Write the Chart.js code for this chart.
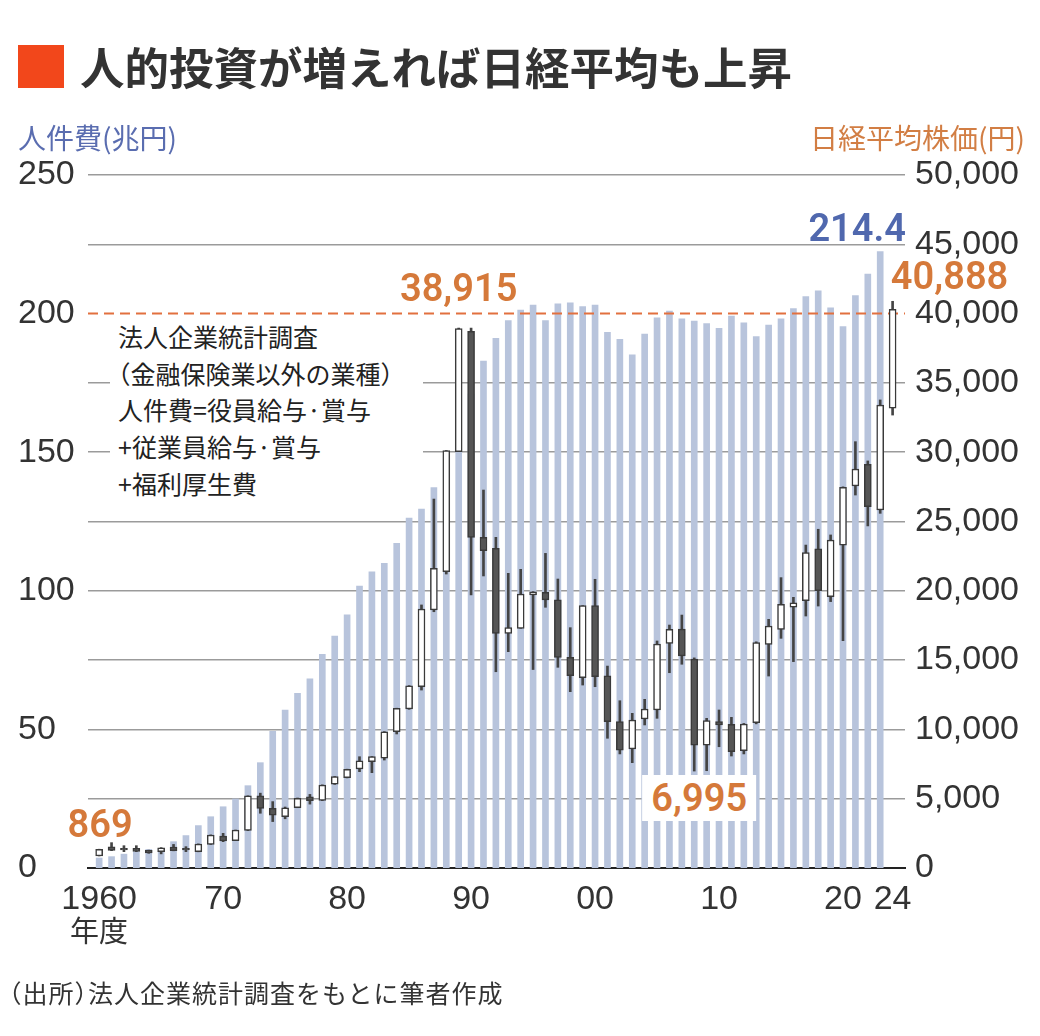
<!DOCTYPE html>
<html lang="ja">
<head>
<meta charset="utf-8">
<title>人的投資が増えれば日経平均も上昇</title>
<script src="https://cdn.jsdelivr.net/npm/chart.js@4.4.1/dist/chart.umd.min.js"></script>
<style>
  html, body { margin: 0; padding: 0; background: #fff; }
  body { width: 1040px; height: 1036px; position: relative; overflow: hidden;
         font-family: "Noto Sans CJK JP", sans-serif; color: #222; }
  #chart { position: absolute; left: 0; top: 0; }
  .abs { position: absolute; white-space: nowrap; line-height: 1; }
  .h { font-feature-settings: "halt"; }
  #mark { position: absolute; left: 18px; top: 45px; width: 46px; height: 43px; background: #f2471b; }
  #title { left: 80px; top: 44px; font-size: 44.5px; font-weight: 700; color: #333; }
  #unitL { left: 18px; top: 123px; font-size: 28px; color: #5a6db0; }
  #unitR { right: 15px; top: 123px; font-size: 28px; color: #d27e44; }
  #note { position: absolute; left: 110px; top: 318px; width: 305px; height: 188px; padding-left: 8px;
          background: #fff; font-size: 25px; line-height: 36.7px; color: #222; white-space: nowrap; }
  #nendo { left: 70px; top: 915px; font-size: 29px; color: #333; }
  #source { left: 9px; top: 980px; font-size: 25px; letter-spacing: 1px; color: #333; }
  .lbl { position: absolute; white-space: nowrap; line-height: 1; transform: translate(-50%, -50%);
         font-family: Roboto, "Liberation Sans", sans-serif; font-weight: 600; font-size: 38px; }
  .orange { color: #d5793a; }
  .blue { color: #5068ae; }
  #l6995 { background: #fff; padding: 4px 9px; }
</style>
</head>
<body>
<canvas id="chart" width="1040" height="1036"></canvas>
<div id="mark"></div>
<div id="title" class="abs">人的投資が増えれば日経平均も上昇</div>
<div id="unitL" class="abs">人件費(兆円)</div>
<div id="unitR" class="abs">日経平均株価(円)</div>
<div id="note">法人企業統計調査<br><span class="h">（</span>金融保険業以外の業種<span class="h">）</span><br>人件費=役員給与·賞与<br>+従業員給与·賞与<br>+福利厚生費</div>
<div id="nendo" class="abs">年度</div>
<div id="source" class="abs"><span class="h">（</span>出所<span class="h">）</span>法人企業統計調査をもとに筆者作成</div>
<div id="l869" class="lbl orange">869</div>
<div id="l38915" class="lbl orange">38,915</div>
<div id="l2144" class="lbl blue">214.4</div>
<div id="l40888" class="lbl orange">40,888</div>
<div id="l6995" class="lbl orange">6,995</div>
<script>
// fiscal years shown on the x axis
const years = [1960, 1961, 1962, 1963, 1964, 1965, 1966, 1967, 1968, 1969,
  1970, 1971, 1972, 1973, 1974, 1975, 1976, 1977, 1978, 1979,
  1980, 1981, 1982, 1983, 1984, 1985, 1986, 1987, 1988, 1989,
  1990, 1991, 1992, 1993, 1994, 1995, 1996, 1997, 1998, 1999,
  2000, 2001, 2002, 2003, 2004, 2005, 2006, 2007, 2008, 2009,
  2010, 2011, 2012, 2013, 2014, 2015, 2016, 2017, 2018, 2019,
  2020, 2021, 2022, 2023, 2024];

// 人件費 (兆円)
const laborCost = [3.6, 4.1, 5.0, 5.9, 6.7, 7.1, 9.5, 11.7, 15.3, 18.5,
  22.1, 24.9, 29.7, 38.0, 49.3, 57.0, 63.0, 68.2, 77.1, 83.7,
  91.3, 101.7, 106.8, 109.9, 117.1, 126.2, 129.5, 137.2, 147, 158,
  171, 182.9, 191.1, 197.5, 201.3, 203.1, 197.5, 203.5, 203.9, 202.5,
  203.1, 193.2, 190.7, 185.1, 192.6, 198.5, 200.9, 198.1, 197.3, 196.4,
  194.7, 199.1, 196.7, 191.7, 195.9, 198.1, 201.8, 206.1, 208.2, 202.1,
  195.3, 206.5, 214.3, 222.4, null];

// 日経平均株価 (円): open / high / low / close
const nikkeiOpen = [869, 1530, 1420, 1420, 1270, 1180, 1510, 1420, 1180, 1710,
  2300, 1980, 2710, 5200, 4300, 3700, 4360, 5140, 4870, 6040,
  6520, 7140, 7670, 7920, 9830, 11470, 13080, 18620, 21380, 30040,
  38712, 23860, 23070, 16930, 17290, 19700, 19890, 19340, 15200, 13730,
  18930, 13870, 10560, 8590, 10750, 11400, 16210, 17240, 15080, 8870,
  10560, 10370, 8460, 10480, 16140, 17220, 18810, 19290, 23020, 19580,
  23300, 27560, 29120, 25830, 33170];
const nikkeiHigh = [1356, 1830, 1610, 1610, 1290, 1470, 1700, 1540, 1740, 2390,
  2500, 2740, 5210, 5400, 4790, 4400, 5050, 5310, 6000, 6600,
  7130, 8030, 8040, 9840, 11530, 13160, 18980, 26620, 30120, 38957,
  38950, 27270, 23860, 21260, 21550, 19940, 22700, 20850, 17340, 18930,
  20830, 14570, 12070, 11160, 12170, 16380, 17530, 18250, 15160, 10800,
  11400, 10870, 10430, 16320, 17940, 20950, 19530, 23300, 24440, 24030,
  27500, 30760, 29370, 33770, 40888];
const nikkeiLow = [869, 1250, 1180, 1180, 1060, 1020, 1240, 1180, 1170, 1700,
  1900, 1970, 2700, 3950, 3350, 3550, 4350, 4610, 4860, 6030,
  6500, 6950, 6880, 7790, 9670, 11450, 12840, 18490, 21210, 30040,
  19700, 21070, 14160, 15610, 17290, 14320, 18810, 14480, 12720, 13200,
  13080, 9360, 8230, 7600, 10320, 10800, 14090, 14700, 6995, 7020,
  8750, 8080, 8230, 10400, 13850, 16570, 14890, 18180, 18900, 19220,
  16400, 26910, 24680, 25590, 32680];
const nikkeiClose = [1356, 1270, 1300, 1200, 1080, 1460, 1250, 1300, 1730, 2380,
  1950, 2740, 5200, 4300, 3820, 4350, 5030, 4860, 5990, 6590,
  7120, 7740, 8030, 9830, 11520, 13150, 18690, 21620, 30110, 38915,
  23850, 22890, 16930, 17340, 19770, 19930, 19340, 15200, 13870, 18930,
  13800, 10560, 8510, 10680, 11470, 16160, 17220, 15300, 8870, 10630,
  10320, 8390, 10390, 16260, 17460, 19030, 19140, 22750, 20010, 23660,
  27470, 28790, 26070, 33400, 40310];

// x-axis tick labels
const tickYears = [1960, 1970, 1980, 1990, 2000, 2010, 2020, 2024];
const tickLabels = ['1960', '70', '80', '90', '00', '10', '20', '24'];

const numFont = '"Liberation Sans", Arial, sans-serif';

const laborData = [];
years.forEach((yr, i) => { if (laborCost[i] !== null) laborData.push({ x: yr, y: laborCost[i] }); });
const wickData = years.map((yr, i) => ({ x: yr, y: [nikkeiLow[i], nikkeiHigh[i]] }));
const bodyData = years.map((yr, i) => ({ x: yr, y: [nikkeiOpen[i], nikkeiClose[i]] }));
const bodyColors = years.map((yr, i) => nikkeiClose[i] >= nikkeiOpen[i] ? '#ffffff' : '#555555');

// dashed reference line at the 40,000 level, drawn over the labour-cost bars
const refLine = {
  id: 'refLine',
  afterDatasetDraw(chart, args) {
    if (args.index !== 0) return;
    const { ctx, chartArea } = chart;
    const y = chart.scales.y1.getPixelForValue(40000);
    ctx.save();
    ctx.strokeStyle = '#e2703f';
    ctx.lineWidth = 2;
    ctx.setLineDash([10, 6]);
    ctx.beginPath();
    ctx.moveTo(chartArea.left, y);
    ctx.lineTo(chartArea.right, y);
    ctx.stroke();
    ctx.restore();
  }
};

function place(id, x, y) {
  const el = document.getElementById(id);
  el.style.left = x + 'px';
  el.style.top = y + 'px';
}

// value labels follow the scales
const labelPlacer = {
  id: 'labelPlacer',
  afterRender(chart) {
    const xs = chart.scales.x, yl = chart.scales.y, yr = chart.scales.y1;
    place('l869', xs.getPixelForValue(1960) + 1, yr.getPixelForValue(869) - 32);
    place('l38915', xs.getPixelForValue(1989), yr.getPixelForValue(38915) - 41);
    place('l2144', xs.getPixelForValue(2023) - 23, yl.getPixelForValue(222.4) - 24);
    place('l40888', xs.getPixelForValue(2024) + 57, yr.getPixelForValue(40888) - 25);
    place('l6995', xs.getPixelForValue(2008) + 5, yr.getPixelForValue(6995) + 27);
  }
};

new Chart(document.getElementById('chart'), {
  type: 'bar',
  data: {
    datasets: [
      {
        label: '人件費',
        data: laborData,
        yAxisID: 'y',
        backgroundColor: '#b8c4dc',
        barThickness: 6,
        grouped: false,
        order: 3
      },
      {
        label: '高値・安値',
        data: wickData,
        yAxisID: 'y1',
        backgroundColor: '#444444',
        barThickness: 2,
        grouped: false,
        order: 2
      },
      {
        label: '始値・終値',
        data: bodyData,
        yAxisID: 'y1',
        backgroundColor: bodyColors,
        borderColor: '#3a3a3a',
        borderWidth: 1.5,
        borderSkipped: false,
        barThickness: 7,
        grouped: false,
        order: 1
      }
    ]
  },
  options: {
    responsive: false,
    maintainAspectRatio: false,
    animation: false,
    layout: { padding: { left: 18, right: 0, top: 175, bottom: 108 } },
    plugins: { legend: { display: false }, tooltip: { enabled: false } },
    scales: {
      x: {
        type: 'linear',
        offset: false,
        min: 1959.1,
        max: 2025,
        z: 1,
        grid: { display: false },
        border: { display: true, color: '#222', width: 2 },
        afterBuildTicks: s => { s.ticks = tickYears.map(v => ({ value: v })); },
        afterFit: s => { s.height = 60; },
        ticks: {
          autoSkip: false,
          maxRotation: 0,
          padding: 3,
          color: '#333',
          font: { family: numFont, size: 34 },
          callback: v => tickLabels[tickYears.indexOf(v)]
        }
      },
      y: {
        position: 'left',
        min: 0,
        max: 250,
        grid: { display: false },
        border: { display: false },
        afterFit: s => { s.width = 70; },
        ticks: {
          stepSize: 50,
          crossAlign: 'far',
          color: '#333',
          font: { family: numFont, size: 34 }
        }
      },
      y1: {
        position: 'right',
        min: 0,
        max: 50000,
        border: { display: false },
        grid: {
          drawTicks: false,
          lineWidth: 1.5,
          color: c => (c.tick.value === 40000 || c.tick.value === 0) ? 'rgba(0,0,0,0)' : '#9b9b9b'
        },
        afterFit: s => { s.width = 135; },
        ticks: {
          stepSize: 5000,
          padding: 10,
          color: '#333',
          font: { family: numFont, size: 34 },
          callback: v => v.toLocaleString('en-US')
        }
      }
    }
  },
  plugins: [refLine, labelPlacer]
});
</script>
</body>
</html>
